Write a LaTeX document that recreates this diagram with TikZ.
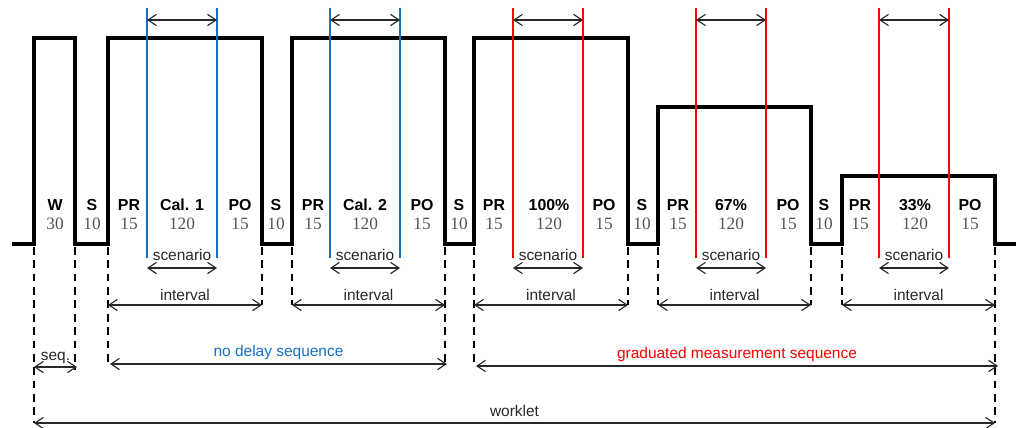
\documentclass[tikz,border=0pt]{standalone}
\usepackage{fontspec}
\setmainfont{Liberation Sans}
\newfontfamily\numfont{Liberation Serif}
\usetikzlibrary{arrows.meta}
\definecolor{calblue}{RGB}{20,112,196}
\definecolor{measred}{RGB}{255,0,0}
\definecolor{numgray}{RGB}{85,85,85}
\definecolor{inkgray}{RGB}{40,40,40}
\tikzset{wave/.style = {line width=2.6pt, line join=miter}}
\tikzset{marker/.style = {line width=1.6pt}}
\tikzset{guide/.style = {line width=1.6pt, dash pattern=on 5.5pt off 4pt}}
\tikzset{span/.style = {line width=0.8pt, draw=inkgray,
    {Straight Barb[length=6pt,width=8pt]}-{Straight Barb[length=6pt,width=8pt]}}}
\tikzset{phase/.style = {font=\bfseries\fontsize{11.3}{12}\selectfont, inner sep=0}}
\tikzset{dur/.style = {font=\numfont\fontsize{12.3}{13}\selectfont, text=numgray, inner sep=0}}
\tikzset{lbl/.style = {font=\fontsize{11}{12}\selectfont, text=inkgray, inner sep=0}}

\begin{document}
\begin{tikzpicture}[x=0.025cm, y=-0.025cm]
    \useasboundingbox (0,0) rectangle (1016,427);

    % stress profile
    \draw [wave] (12,244) -- (34,244) -- (34,38) -- (75,38) -- (75,244)
        -- (108,244) -- (108,38) -- (262,38) -- (262,244)
        -- (292,244) -- (292,38) -- (445,38) -- (445,244)
        -- (474,244) -- (474,38) -- (628,38) -- (628,244)
        -- (658,244) -- (658,107) -- (811,107) -- (811,244)
        -- (842,244) -- (842,176) -- (995,176) -- (995,244) -- (1016,244);

    % scenario markers
    \foreach \a/\b/\c [count=\i] in {147/217/calblue, 330/400/calblue,
            513/583/measred, 696/766/measred, 879/949/measred} {
        \coordinate (mt\i a) at (\a,8);
        \coordinate (mb\i a) at (\a,258);
        \coordinate (mt\i b) at (\b,8);
        \coordinate (mb\i b) at (\b,258);
        \draw [marker, \c] (mt\i a) -- (mb\i a);
        \draw [marker, \c] (mt\i b) -- (mb\i b);
        \coordinate (ta\i) at (\a,20);
        \coordinate (tb\i) at (\b,20);
        \draw [span] (ta\i) -- (tb\i);
        \coordinate (sa\i) at (\a,268);
        \coordinate (sb\i) at (\b,268);
        \draw [span] (sa\i) -- node [lbl, above=5pt] (sc\i) {scenario} (sb\i);
    }

    % phases and durations
    \foreach \x/\p/\d [count=\i] in {55/W/30, 92/S/10, 129/PR/15, 182/Cal. 1/120,
            240/PO/15, 276/S/10, 313/PR/15, 365/Cal. 2/120, 422/PO/15,
            459/S/10, 494/PR/15, 549/100\%/120, 604/PO/15, 642/S/10,
            678/PR/15, 731/67\%/120, 788/PO/15, 824/S/10, 860/PR/15,
            915/33\%/120, 970/PO/15} {
        \node [phase] (ph\i) at (\x,205) {\p};
        \node [dur] (du\i) at (\x,224) {\d};
    }

    % dashed guides
    \foreach \x/\y [count=\i from 0] in {34/423, 75/370, 108/365, 262/305,
            292/305, 445/367, 474/367, 628/305, 658/305, 811/305,
            842/305, 995/423} {
        \coordinate (gt\i) at (\x,247);
        \coordinate (gb\i) at (\x,\y);
        \draw [guide] (gt\i) -- (gb\i);
    }

    % intervals
    \foreach \l/\r [count=\i] in {108/262, 292/445, 474/628, 658/811, 842/995} {
        \coordinate (ia\i) at (\l,305);
        \coordinate (ib\i) at (\r,305);
        \draw [span] (ia\i) -- node [lbl, above=2.5pt] (iv\i) {interval} (ib\i);
    }

    % sequences
    \coordinate (qa) at (34,367);
    \coordinate (qb) at (77,367);
    \draw [span] (qa) -- node [lbl, above=2pt] (seq) {seq.} (qb);
    \coordinate (na) at (110,364);
    \coordinate (nb) at (447,364);
    \draw [span] (na) -- node [lbl, above=3pt, text=calblue] (nd) {no delay sequence} (nb);
    \coordinate (ga) at (476,366);
    \coordinate (gb) at (998,366);
    \draw [span] (ga) -- node [lbl, above=3pt, text=measred] (gm) {graduated measurement sequence} (gb);
    \coordinate (wa) at (34,423);
    \coordinate (wb) at (995,423);
    \draw [span] (wa) -- node [lbl, above=4pt] (wk) {worklet} (wb);
\end{tikzpicture}
\end{document}
